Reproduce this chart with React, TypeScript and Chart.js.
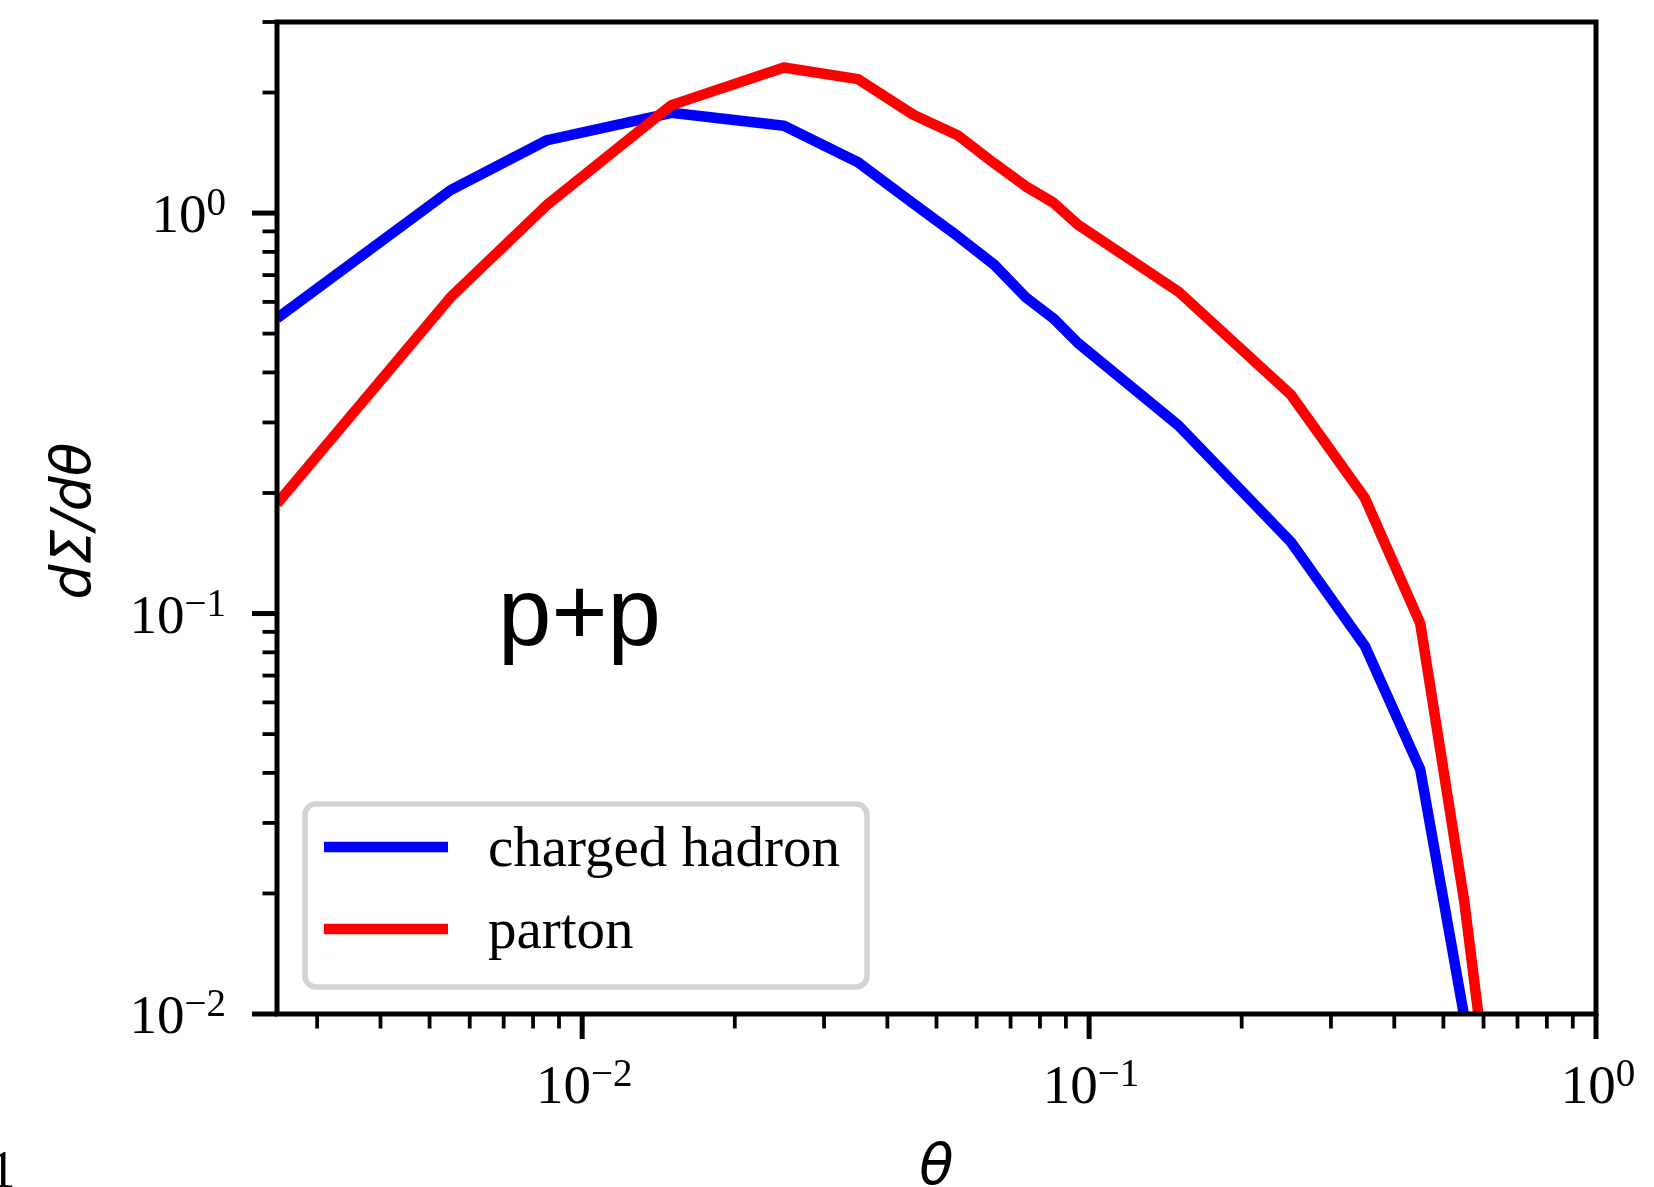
import React, { useEffect, useRef } from "react";
import { Chart, registerables } from "chart.js";

Chart.register(...registerables);

// ---- data ----
const theta = [0.0025, 0.0055, 0.0085, 0.015, 0.025, 0.035, 0.045, 0.055, 0.065, 0.075, 0.085, 0.095, 0.15, 0.25, 0.35, 0.45, 0.55, 0.65];
const chargedHadron = [0.546, 1.141, 1.518, 1.78, 1.652, 1.339, 1.057, 0.876, 0.743, 0.616, 0.546, 0.474, 0.295, 0.151, 0.083, 0.0408, 0.0098, 0.0015];
const parton = [0.188, 0.616, 1.045, 1.86, 2.31, 2.16, 1.76, 1.565, 1.331, 1.166, 1.062, 0.936, 0.637, 0.352, 0.1943, 0.0945, 0.019, 0.0035];

const seriesLabels = ["charged hadron", "parton"];
const seriesColors = ["#0000ff", "#ff0000"];

const xMajorTicks = [0.01, 0.1, 1];
const xMajorExp = ["\u22122", "\u22121", "0"];
const yMajorTicks = [0.01, 0.1, 1];
const yMajorExp = ["\u22122", "\u22121", "0"];
const xDecades = [0.001, 0.01, 0.1];
const yDecades = [0.01, 0.1, 1];
const minorMult = [2, 3, 4, 5, 6, 7, 8, 9];

const X_MIN = 0.0025;
const X_MAX = 1;
const Y_MIN = 0.01;
const Y_MAX = 3;

const W = 1654;
const H = 1187;

const SERIF = '"Liberation Serif", "Times New Roman", serif';
const SANS = '"Liberation Sans", Arial, sans-serif';
const DEJAVU = '"DejaVu Sans", sans-serif';

function drawPow(ctx: CanvasRenderingContext2D, exp: string, x: number, baseline: number, align: "right" | "center") {
  const mainFont = `55px ${SERIF}`;
  const supFont = `39px ${SERIF}`;
  ctx.font = mainFont;
  const w1 = ctx.measureText("10").width;
  ctx.font = supFont;
  const w2 = ctx.measureText(exp).width;
  const total = w1 + w2;
  const start = align === "right" ? x - total : x - total / 2;
  ctx.textAlign = "left";
  ctx.textBaseline = "alphabetic";
  ctx.fillStyle = "#000";
  ctx.font = mainFont;
  ctx.fillText("10", start, baseline);
  ctx.font = supFont;
  ctx.fillText(exp, start + w1, baseline - 17);
}

const decorPlugin = {
  id: "decor",
  afterDraw(chart: any) {
    const ctx: CanvasRenderingContext2D = chart.ctx;
    const { left, right, top, bottom } = chart.chartArea;
    const xs = chart.scales.x;
    const ys = chart.scales.y;
    ctx.save();

    // spines
    ctx.strokeStyle = "#000";
    ctx.lineWidth = 5;
    ctx.lineJoin = "miter";
    ctx.strokeRect(left, top, right - left, bottom - top);

    // y ticks
    ctx.lineCap = "butt";
    ctx.lineWidth = 5;
    yMajorTicks.forEach((v) => {
      const py = ys.getPixelForValue(v);
      ctx.beginPath();
      ctx.moveTo(left, py);
      ctx.lineTo(left - 25, py);
      ctx.stroke();
    });
    ctx.lineWidth = 3.8;
    yDecades.forEach((d) => {
      minorMult.forEach((m) => {
        const v = d * m;
        if (v < Y_MIN || v > Y_MAX * 1.0001) return;
        const py = ys.getPixelForValue(v);
        ctx.beginPath();
        ctx.moveTo(left, py);
        ctx.lineTo(left - 14.5, py);
        ctx.stroke();
      });
    });

    // x ticks
    ctx.lineWidth = 5;
    xMajorTicks.forEach((v) => {
      const px = xs.getPixelForValue(v);
      ctx.beginPath();
      ctx.moveTo(px, bottom);
      ctx.lineTo(px, bottom + 25);
      ctx.stroke();
    });
    ctx.lineWidth = 3.8;
    xDecades.forEach((d) => {
      minorMult.forEach((m) => {
        const v = d * m;
        if (v < X_MIN || v > X_MAX) return;
        const px = xs.getPixelForValue(v);
        ctx.beginPath();
        ctx.moveTo(px, bottom);
        ctx.lineTo(px, bottom + 14.5);
        ctx.stroke();
      });
    });

    // tick labels
    yMajorTicks.forEach((v, i) => {
      const py = ys.getPixelForValue(v);
      drawPow(ctx, yMajorExp[i], 226, py + 19, "right");
    });
    xMajorTicks.forEach((v, i) => {
      const px = xs.getPixelForValue(v);
      drawPow(ctx, xMajorExp[i], px + 2, 1103, "center");
    });

    // axis titles
    ctx.fillStyle = "#000";
    ctx.font = `italic 56px ${DEJAVU}`;
    ctx.textAlign = "center";
    ctx.textBaseline = "alphabetic";
    ctx.fillText("\u03b8", (left + right) / 2, 1184);
    ctx.save();
    ctx.translate(89.5, 521);
    ctx.rotate(-Math.PI / 2);
    ctx.font = `italic 55px ${DEJAVU}`;
    ctx.fillText("d\u03a3/d\u03b8", 0, 0);
    ctx.restore();

    // annotation
    ctx.font = `96px ${SANS}`;
    ctx.textAlign = "left";
    ctx.fillText("p+p", 498, 645);

    // legend
    const bx = 305, by = 804, bw = 562, bh = 183, r = 11;
    ctx.fillStyle = "rgba(255,255,255,0.8)";
    ctx.strokeStyle = "#d2d2d2";
    ctx.lineWidth = 5.5;
    ctx.beginPath();
    ctx.moveTo(bx + r, by);
    ctx.lineTo(bx + bw - r, by);
    ctx.arcTo(bx + bw, by, bx + bw, by + r, r);
    ctx.lineTo(bx + bw, by + bh - r);
    ctx.arcTo(bx + bw, by + bh, bx + bw - r, by + bh, r);
    ctx.lineTo(bx + r, by + bh);
    ctx.arcTo(bx, by + bh, bx, by + bh - r, r);
    ctx.lineTo(bx, by + r);
    ctx.arcTo(bx, by, bx + r, by, r);
    ctx.closePath();
    ctx.fill();
    ctx.stroke();

    const rows = [847, 929];
    chart.data.datasets.forEach((ds: any, i: number) => {
      const ly = rows[i];
      ctx.strokeStyle = ds.borderColor;
      ctx.lineWidth = 10.5;
      ctx.lineCap = "butt";
      ctx.beginPath();
      ctx.moveTo(324, ly);
      ctx.lineTo(448, ly);
      ctx.stroke();
      ctx.fillStyle = "#000";
      ctx.font = `57px ${SERIF}`;
      ctx.textAlign = "left";
      ctx.textBaseline = "alphabetic";
      ctx.fillText(ds.label, 488, ly + 19);
    });

    // cropped glyph at the bottom-left edge of the figure
    ctx.font = `52px ${SERIF}`;
    ctx.fillStyle = "#000";
    ctx.textAlign = "left";
    ctx.fillText("1", -10.5, 1187);

    ctx.restore();
  },
};

export default function App() {
  const ref = useRef<HTMLCanvasElement | null>(null);
  useEffect(() => {
    document.body.style.margin = "0";
    const canvas = ref.current;
    if (!canvas) return;
    const series = [chargedHadron, parton];
    const chart = new Chart(canvas, {
      type: "line",
      data: {
        datasets: series.map((vals, i) => ({
          label: seriesLabels[i],
          data: theta.map((x, j) => ({ x, y: vals[j] })),
          borderColor: seriesColors[i],
          backgroundColor: seriesColors[i],
          borderWidth: 10.5,
          pointRadius: 0,
          pointHoverRadius: 0,
          tension: 0,
          fill: false,
          clip: 0,
          borderJoinStyle: "round",
          order: i === 0 ? 1 : 0,
        })),
      },
      options: {
        responsive: false,
        animation: false,
        events: [],
        layout: { padding: { left: 277, right: W - 1596, top: 22, bottom: H - 1014 } },
        plugins: { legend: { display: false }, tooltip: { enabled: false }, title: { display: false } },
        scales: {
          x: { type: "logarithmic", min: X_MIN, max: X_MAX, display: false },
          y: { type: "logarithmic", min: Y_MIN, max: Y_MAX, display: false },
        },
      } as any,
      plugins: [decorPlugin],
    });
    return () => chart.destroy();
  }, []);
  return (
    <div style={{ position: "absolute", left: 0, top: 0, width: W, height: H, background: "#fff" }}>
      <canvas ref={ref} width={W} height={H} style={{ width: W, height: H, display: "block" }} />
    </div>
  );
}
